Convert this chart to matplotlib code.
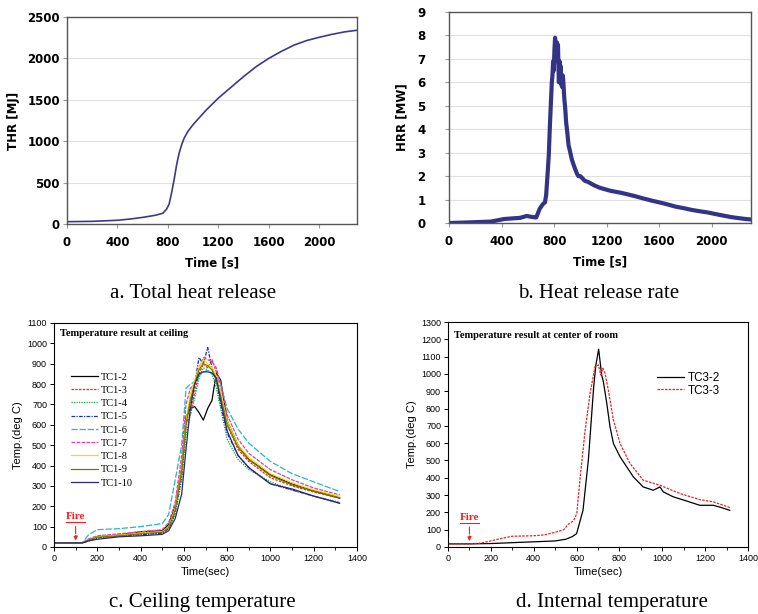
import numpy as np
import matplotlib
matplotlib.use("Agg")
import matplotlib.pyplot as plt

plt.rcParams['font.family'] = ['Liberation Sans', 'DejaVu Sans']

W, H = 758, 614

# --- a. total heat release ---
thr_t = [0, 200, 400, 500, 600, 700, 760, 790, 810, 830, 850, 870, 890, 910, 930,
         960, 1000, 1100, 1200, 1300, 1400, 1500, 1600, 1700, 1800, 1900, 2000,
         2100, 2200, 2300]
thr_v = [28, 32, 45, 60, 80, 105, 130, 180, 240, 380, 540, 720, 860, 960, 1040,
         1120, 1200, 1370, 1520, 1650, 1780, 1900, 2000, 2085, 2160, 2215, 2255,
         2290, 2320, 2340]

# --- b. heat release rate ---
hrr_t = [0, 120, 320, 419, 542, 591, 620, 653, 665, 690, 714, 731, 740, 751, 760,
         768, 775, 783, 788, 793, 798, 803, 808, 812, 818, 822, 826, 830, 834, 837,
         842, 846, 850, 855, 862, 866, 870, 875, 879, 885, 892, 900, 911, 920, 936,
         948, 961, 975, 985, 1000, 1034, 1060, 1108, 1150, 1232, 1300, 1355, 1420,
         1478, 1540, 1601, 1660, 1724, 1790, 1847, 1910, 1970, 2030, 2094, 2150,
         2217, 2260, 2300]
hrr_v = [0.0, 0.02, 0.06, 0.17, 0.22, 0.30, 0.27, 0.24, 0.24, 0.60, 0.80, 0.88,
         1.2, 2.1, 2.9, 4.1, 5.0, 6.0, 6.3, 6.9, 6.5, 7.4, 7.9, 7.0, 7.2, 7.7, 6.9,
         7.6, 6.6, 6.0, 6.9, 6.2, 6.7, 5.9, 5.8, 6.3, 6.1, 5.6, 5.25, 4.9, 4.3, 3.9,
         3.3, 3.1, 2.7, 2.5, 2.3, 2.1, 2.0, 2.0, 1.8, 1.75, 1.6, 1.5, 1.37, 1.3,
         1.23, 1.14, 1.05, 0.96, 0.88, 0.8, 0.7, 0.63, 0.56, 0.5, 0.45, 0.38, 0.31,
         0.25, 0.2, 0.17, 0.15]

# --- c. ceiling temperature ---
tc1_t = [0, 130, 160, 200, 300, 400, 500, 530, 560, 590, 610, 630, 650, 670, 690,
         710, 730, 750, 770, 800, 850, 900, 1000, 1100, 1200, 1320]
tc1_names = ['TC1-2', 'TC1-3', 'TC1-4', 'TC1-5', 'TC1-6', 'TC1-7', 'TC1-8',
             'TC1-9', 'TC1-10']
tc1_2 = [20, 20, 35, 50, 58, 75, 80, 110, 200, 380, 640, 680, 690, 660, 623, 680,
         720, 855, 820, 620, 500, 430, 355, 310, 275, 240]
tc1_3 = [20, 20, 35, 50, 60, 70, 78, 100, 190, 400, 600, 650, 760, 850, 900, 880,
         920, 860, 760, 600, 480, 420, 340, 300, 270, 240]
tc1_4 = [20, 20, 30, 45, 55, 62, 70, 90, 160, 330, 550, 650, 730, 830, 880, 870,
         850, 780, 680, 530, 430, 380, 320, 280, 250, 220]
tc1_5 = [20, 20, 30, 45, 55, 60, 68, 90, 170, 350, 600, 720, 800, 930, 900, 980,
         880, 820, 700, 560, 450, 390, 310, 280, 250, 215]
tc1_6 = [20, 20, 60, 85, 90, 100, 115, 160, 330, 500, 780, 800, 810, 840, 860, 867,
         850, 835, 800, 680, 580, 510, 420, 360, 320, 272]
tc1_7 = [20, 20, 40, 55, 65, 75, 85, 120, 220, 450, 700, 780, 800, 880, 930, 920,
         910, 880, 800, 650, 530, 460, 380, 330, 290, 256]
tc1_8 = [20, 20, 35, 50, 58, 68, 75, 100, 190, 380, 620, 750, 820, 880, 920, 900,
         880, 840, 760, 620, 500, 440, 360, 315, 280, 250]
tc1_9 = [20, 20, 35, 48, 55, 65, 72, 95, 180, 370, 600, 720, 800, 870, 900, 890,
         870, 820, 740, 600, 490, 430, 350, 305, 275, 242]
tc1_10 = [20, 20, 30, 38, 50, 55, 62, 80, 140, 260, 480, 680, 800, 850, 860, 860,
          855, 830, 720, 570, 450, 390, 310, 285, 250, 215]
tc1_series = [tc1_2, tc1_3, tc1_4, tc1_5, tc1_6, tc1_7, tc1_8, tc1_9, tc1_10]
tc1_colors = ['black', '#ff2020', '#10a040', '#2030b0', '#20b8d0', '#e040a8',
              '#f0e000', '#7a7a00', '#282878']
tc1_styles = ['-', (0, (2, 1)), (0, (1, 1)), (0, (3, 1, 1, 1)), (0, (5, 1.5)),
              (0, (3, 1)), '-', '-', '-']

# --- d. internal temperature ---
tc32_t = [0, 100, 200, 300, 400, 500, 550, 580, 600, 630, 655, 680, 690, 703, 717,
          725, 741, 756, 772, 803, 834, 865, 911, 958, 989, 1005, 1051, 1113, 1175,
          1238, 1270, 1315]
tc32_v = [18, 18, 20, 25, 30, 35, 45, 60, 77, 212, 502, 927, 1050, 1143, 994, 955,
          830, 695, 598, 521, 463, 405, 347, 328, 347, 318, 290, 266, 241, 241, 230,
          212]
tc33_t = [0, 100, 150, 200, 250, 300, 400, 450, 500, 540, 560, 570, 585, 601, 617,
          640, 663, 686, 702, 713, 722, 733, 748, 772, 803, 849, 911, 989, 1082,
          1175, 1238, 1315]
tc33_v = [18, 18, 22, 35, 50, 62, 65, 70, 85, 100, 130, 140, 150, 193, 405, 675,
          888, 1042, 1052, 994, 1033, 1004, 907, 734, 598, 483, 386, 357, 309, 274,
          261, 228]


def rect(l, t, r, b):
    return [l / W, 1 - b / H, (r - l) / W, (b - t) / H]


fig = plt.figure(figsize=(W / 100, H / 100), dpi=100)
fig.patch.set_facecolor('white')

bold = dict(family='DejaVu Sans', weight='bold', size=8.5)
serif = ['Liberation Serif', 'DejaVu Serif']


def excel_axes(ax, ylim, yticks, ypad):
    ax.set_xlim(0, 2300)
    ax.set_ylim(*ylim)
    ax.set_xticks([0, 400, 800, 1200, 1600, 2000])
    ax.set_yticks(yticks)
    ax.grid(axis='y', color='#e0e0e0', lw=0.8)
    ax.set_axisbelow(True)
    for s in ax.spines.values():
        s.set_color('#555555')
        s.set_linewidth(1.0)
    ax.tick_params(length=3, color='#999999')
    ax.tick_params(axis='x', pad=6)
    ax.tick_params(axis='y', pad=ypad)
    for lab in ax.get_xticklabels() + ax.get_yticklabels():
        lab.set_fontfamily('DejaVu Sans')
        lab.set_fontweight('bold')
        lab.set_fontsize(8.5)
    ax.set_xlabel('Time [s]', **bold, labelpad=5)


ax_a = fig.add_axes(rect(67, 17, 357, 224))
ax_a.plot(thr_t, thr_v, color='#3a3a8c', lw=1.2)
excel_axes(ax_a, (0, 2500), [0, 500, 1000, 1500, 2000, 2500], 2)
ax_a.set_ylabel('THR [MJ]', **bold, labelpad=5)

ax_b = fig.add_axes(rect(449, 12, 751, 223))
ax_b.plot(hrr_t, hrr_v, color='#343486', lw=3.0)
excel_axes(ax_b, (0, 9), list(range(10)), 14)
ax_b.set_ylabel('HRR [MW]', **bold, labelpad=6)


def origin_axes(ax, ymax):
    ax.set_xlim(0, 1400)
    ax.set_ylim(0, ymax)
    ax.set_xticks(range(0, 1401, 200))
    ax.set_xticks(range(100, 1400, 200), minor=True)
    ax.set_yticks(range(0, ymax + 1, 100))
    ax.tick_params(which='major', direction='out', length=3, width=0.7,
                   labelsize=6.5, pad=2)
    ax.tick_params(which='minor', direction='out', length=2, width=0.6)
    for s in ax.spines.values():
        s.set_linewidth(0.8)
    ax.set_xlabel('Time(sec)', fontsize=8, labelpad=3)
    ax.set_ylabel('Temp.(deg C)', fontsize=8, labelpad=3)


def fire_mark(ax, y_text, y_line):
    ax.text(100, y_text, 'Fire', color='#ee2020', fontsize=8, weight='bold',
            family=serif, ha='center', va='bottom')
    ax.plot([55, 145], [y_line, y_line], color='#ee2020', lw=0.8)
    ax.annotate('', xy=(100, 18), xytext=(100, y_line - 8),
                arrowprops=dict(arrowstyle='-|>', color='#ee2020', lw=0.8,
                                linestyle='-.', mutation_scale=6))


ax_c = fig.add_axes(rect(54, 323, 357, 547))
for name, vals, col, ls in zip(tc1_names, tc1_series, tc1_colors, tc1_styles):
    ax_c.plot(tc1_t, vals, color=col, ls=ls, lw=0.9, label=name)
origin_axes(ax_c, 1100)
ax_c.text(0.02, 0.955, 'Temperature result at ceiling', transform=ax_c.transAxes,
          fontsize=7.5, weight='bold', family=serif, va='center')
fire_mark(ax_c, 127, 122)
ax_c.legend(loc='upper left', bbox_to_anchor=(0.055, 0.78), frameon=False,
            prop=dict(family=serif, size=7.5), handlelength=2.6,
            handletextpad=0.3, labelspacing=0.38, borderaxespad=0, borderpad=0)

ax_d = fig.add_axes(rect(448, 322, 748, 547))
ax_d.plot(tc32_t, tc32_v, color='black', lw=0.9, label='TC3-2')
ax_d.plot(tc33_t, tc33_v, color='#ee2020', ls=(0, (2, 1)), lw=0.9, label='TC3-3')
origin_axes(ax_d, 1300)
ax_d.text(0.02, 0.94, 'Temperature result at center of room',
          transform=ax_d.transAxes, fontsize=7.5, weight='bold', family=serif,
          va='center')
fire_mark(ax_d, 145, 140)
ax_d.legend(loc='upper left', bbox_to_anchor=(0.697, 0.778), frameon=False,
            prop=dict(size=8.4), handlelength=2.3, handletextpad=0.3,
            labelspacing=0.05, borderaxespad=0, borderpad=0)

# captions
cap = dict(fontsize=15, family=serif, ha='center', va='center')
fig.text(193 / W, 1 - 293 / H, 'a. Total heat release', **cap)
fig.text(599 / W, 1 - 293 / H, 'b. Heat release rate', **cap)
fig.text(202 / W, 1 - 603 / H, 'c. Ceiling temperature', **cap)
fig.text(612 / W, 1 - 603 / H, 'd. Internal temperature', **cap)

fig.savefig('out.png', dpi=100)
